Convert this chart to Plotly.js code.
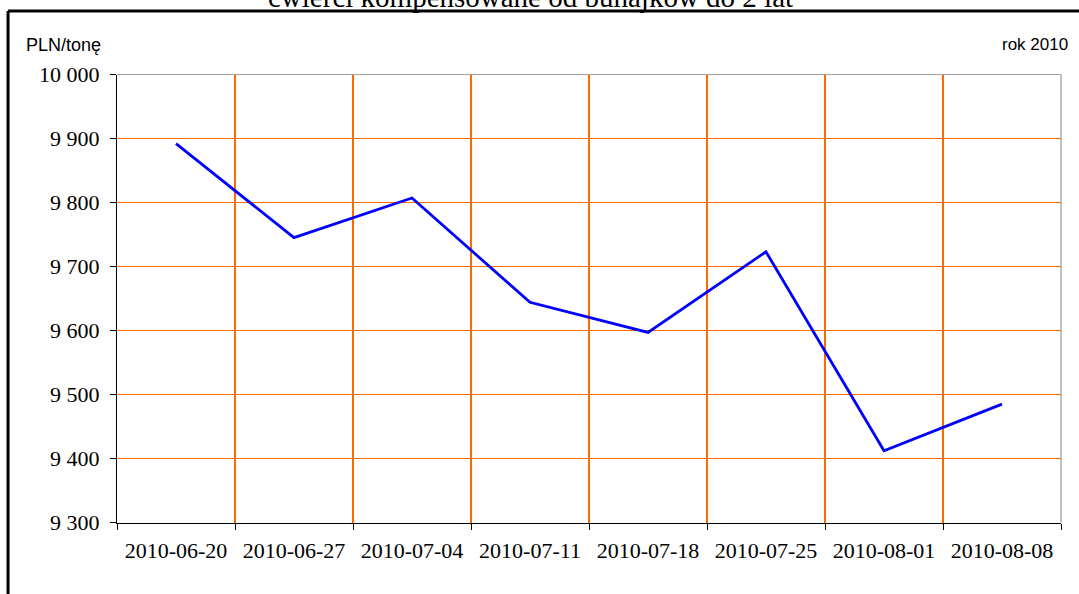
<!DOCTYPE html>
<html>
<head>
<meta charset="utf-8">
<script src="https://cdn.plot.ly/plotly-3.0.1.min.js"></script>
<style>
  html, body { margin: 0; padding: 0; background: #ffffff; }
  #chart { width: 1079px; height: 594px; }
</style>
</head>
<body>
<div id="chart"></div>
<script>
const weeks = ["2010-06-20", "2010-06-27", "2010-07-04", "2010-07-11",
               "2010-07-18", "2010-07-25", "2010-08-01", "2010-08-08"];
const prices = [9892, 9745, 9807, 9644, 9597, 9723, 9412, 9485];
const yTicks = [9300, 9400, 9500, 9600, 9700, 9800, 9900, 10000];
const titleText = "ćwierci kompensowane od buhajków do 2 lat";
const unitText = "PLN/tonę";
const yearText = "rok 2010";

const trace = {
  x: weeks,
  y: prices,
  type: "scatter",
  mode: "lines",
  line: { color: "#0000FF", width: 2.8 },
  hoverinfo: "x+y"
};

const serif = "Liberation Serif, Times New Roman, serif";
const sans = "Liberation Sans, Arial, sans-serif";

// plot area: width 945 (l=117, r=17), height 449 (t=74, b=71)
const gw = 945, gh = 449;

const layout = {
  width: 1079,
  height: 594,
  margin: { l: 117, r: 17, t: 74, b: 71 },
  paper_bgcolor: "#ffffff",
  plot_bgcolor: "#ffffff",
  separators: ", ",
  showlegend: false,
  font: { family: serif, color: "#000000", size: 22 },
  xaxis: {
    type: "category",
    domain: [0, 1 - 1 / gw],
    range: [-0.5, 7.5],
    tickson: "boundaries",
    ticks: "outside",
    ticklen: 6,
    tickcolor: "#000000",
    ticklabelstandoff: 8,
    showgrid: true,
    gridcolor: "#FF6A00",
    gridwidth: 2,
    showline: true,
    linecolor: "#000000",
    linewidth: 1,
    zeroline: false,
    tickfont: { family: serif, size: 22, color: "#000000" },
    fixedrange: true
  },
  yaxis: {
    domain: [0.5 / gh, 1 - 0.5 / gh],
    range: [9300, 10000],
    tickvals: yTicks,
    tickformat: ",d",
    ticks: "outside",
    ticklen: 6,
    tickcolor: "#000000",
    ticklabelstandoff: 6,
    showgrid: true,
    gridcolor: "#FF6A00",
    gridwidth: 1,
    showline: true,
    linecolor: "#000000",
    linewidth: 1,
    zeroline: false,
    tickfont: { family: serif, size: 22, color: "#000000" },
    fixedrange: true
  },
  shapes: [
    { type: "line", xref: "x domain", yref: "y domain", x0: 0, x1: 1, y0: 1, y1: 1,
      line: { color: "#A8A0A0", width: 1 } },
    { type: "line", xref: "x domain", yref: "y domain", x0: 1, x1: 1, y0: 0, y1: 1,
      line: { color: "#8C7F78", width: 1 } },
    { type: "line", xref: "paper", yref: "paper", x0: -0.1153, x1: 1.05, y0: 1.1403, y1: 1.1403,
      line: { color: "#000000", width: 3 } },
    { type: "line", xref: "paper", yref: "paper", x0: -0.1153, x1: -0.1153, y0: -0.2, y1: 1.1403,
      line: { color: "#000000", width: 3 } }
  ],
  annotations: [
    { text: titleText, xref: "paper", yref: "paper", x: 0.438, y: 1.1303,
      xanchor: "center", yanchor: "bottom", showarrow: false,
      font: { family: serif, size: 29, color: "#000000" } },
    { text: unitText, xref: "paper", yref: "paper", x: -0.0985, y: 1.0646,
      xanchor: "left", yanchor: "middle", showarrow: false,
      font: { family: sans, size: 18, color: "#000000" } },
    { text: yearText, xref: "paper", yref: "paper", x: 1.0085, y: 1.0646,
      xanchor: "right", yanchor: "middle", showarrow: false,
      font: { family: sans, size: 17, color: "#000000" } }
  ]
};

Plotly.newPlot("chart", [trace], layout, { displayModeBar: false, staticPlot: true });
</script>
</body>
</html>
